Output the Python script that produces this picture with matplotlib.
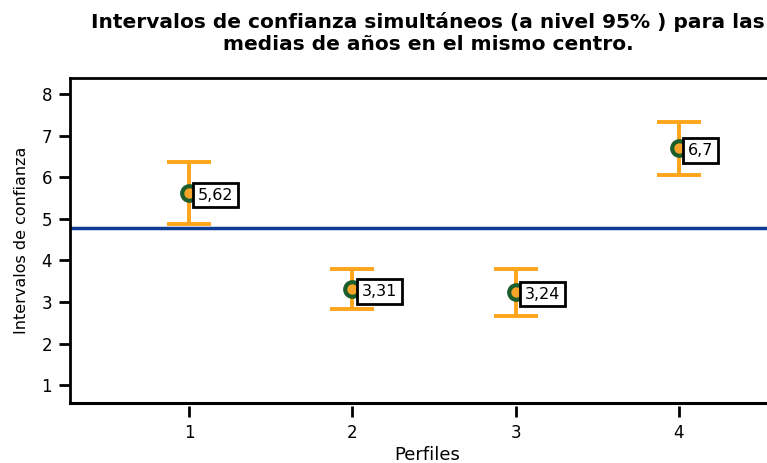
import matplotlib.pyplot as plt

plt.rcParams['font.family'] = ['DejaVu Sans']

perfiles = [1, 2, 3, 4]
medias = [5.62, 3.31, 3.24, 6.70]
lim_inf = [4.88, 2.83, 2.66, 6.06]
lim_sup = [6.37, 3.79, 3.80, 7.33]
etiquetas = ['5,62', '3,31', '3,24', '6,7']
media_global = 4.78

err_inf = [m - l for m, l in zip(medias, lim_inf)]
err_sup = [u - m for m, u in zip(medias, lim_sup)]

fig = plt.figure(figsize=(7.67, 4.63), dpi=100)
W, H = 767, 463
# la caja de ejes sigue mas alla del borde derecho, como en el original
ax = fig.add_axes([70 / W, 1 - 403 / H, (785 - 70) / W, (403 - 78) / H])

ax.axhline(media_global, color='#0d3c96', linewidth=2.5, zorder=1)

ax.errorbar(perfiles, medias, yerr=[err_inf, err_sup], fmt='none',
            ecolor='#ffa51a', elinewidth=2.8, capsize=15.5, capthick=2.8, zorder=2)
ax.plot(perfiles, medias, 'o', markersize=10.5, markerfacecolor='#f7a428',
        markeredgecolor='#1b5e2b', markeredgewidth=3, zorder=3)

for x, y, t in zip(perfiles, medias, etiquetas):
    ax.annotate(t, (x, y), xytext=(6.5, -1.5), textcoords='offset points',
                ha='left', va='center', fontsize=11.5, zorder=4,
                bbox=dict(boxstyle='square,pad=0.3', fc='white', ec='black', lw=2))

ax.set_xlim(0.27, 4.65)
ax.set_ylim(0.57, 8.39)
ax.set_xticks(perfiles)
ax.set_yticks(range(1, 9))

for s in ax.spines.values():
    s.set_linewidth(2)
# ticks del eje x separados del marco
ax.spines['bottom'].set_position(('outward', 2))
ax.spines['bottom'].set_visible(False)
ax.plot([0, 1], [0, 0], transform=ax.transAxes, color='black', lw=2.2,
        clip_on=False, zorder=5, solid_capstyle='projecting')

ax.tick_params(axis='both', width=2, length=8, labelsize=12, color='black')
ax.tick_params(axis='x', pad=5)
ax.tick_params(axis='y', pad=5)

ax.set_xlabel('Perfiles', fontsize=13, labelpad=3)
ax.set_ylabel('Intervalos de confianza', fontsize=11.5, labelpad=9)

fig.text(428 / W, 1 - 33 / H,
         'Intervalos de confianza simultáneos (a nivel 95% ) para las\nmedias de años en el mismo centro.',
         ha='center', va='center', fontsize=14.5, fontweight='bold', linespacing=1.15)

fig.savefig('out.png', dpi=100)
